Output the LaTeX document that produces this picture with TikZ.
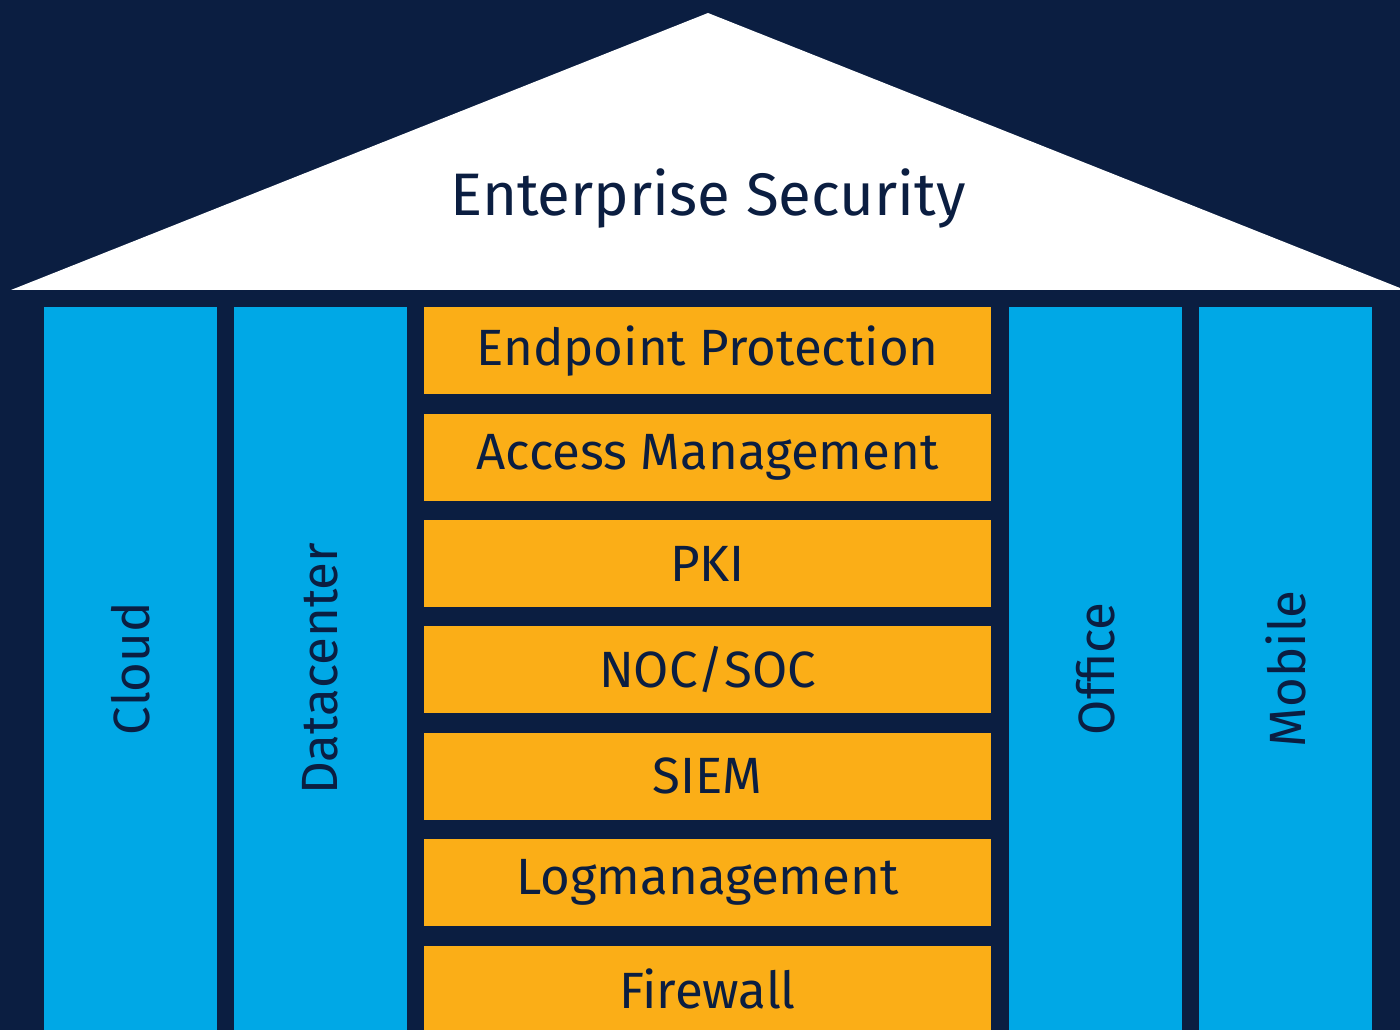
\documentclass[tikz,border=0pt]{standalone}
\usepackage{fontspec}
\setmainfont{Fira Sans}
\usetikzlibrary{positioning}
\definecolor{navy}{HTML}{0B1E41}
\definecolor{pillarblue}{HTML}{00A8E6}
\definecolor{layerorange}{HTML}{FBAE17}
\tikzstyle{pillar}=[rectangle, fill=pillarblue, inner sep=0pt, minimum width=173pt, minimum height=723pt, anchor=north]
\tikzstyle{layer}=[rectangle, fill=layerorange, inner sep=0pt, minimum width=567pt, minimum height=87pt, text=navy, font=\fontsize{51}{60}\selectfont]
\tikzstyle{plabel}=[rotate=90, inner sep=0pt, text=navy, font=\fontsize{51}{60}\selectfont]

\begin{document}
\begin{tikzpicture}[x=1pt, y=1pt, node distance=19pt]
\clip (0,0) rectangle (1400,1030);
\fill[navy] (0,0) rectangle (1400,1030);
% roof
\fill[white] (11,740) -- (708,1017) -- (1405,740) -- cycle;
\node (ROOF) [text=navy, font=\fontsize{60}{70}\selectfont] at (708,831) {Enterprise Security};
% pillars
\node (CLOUD) [pillar] at (130.5,723) {};
\node [plabel] at (CLOUD.center) {Cloud};
\node (DC) [pillar] at (320.5,723) {};
\node [plabel] at (DC.center) {Datacenter};
\node (OFFICE) [pillar] at (1095.5,723) {};
\node [plabel] at (OFFICE.center) {Office};
\node (MOBILE) [pillar] at (1285.5,723) {};
\node [plabel] at (MOBILE.center) {Mobile};
% layers
\node (EP) [layer, anchor=north] at (707.5,723) {Endpoint Protection};
\node (AM) [layer, below=of EP] {Access Management};
\node (PKI) [layer, below=of AM] {PKI};
\node (NOC) [layer, below=of PKI] {NOC/SOC};
\node (SIEM) [layer, below=of NOC] {SIEM};
\node (LOG) [layer, below=of SIEM] {Logmanagement};
\node (FW) [layer, below=of LOG] {Firewall};
\end{tikzpicture}
\end{document}
